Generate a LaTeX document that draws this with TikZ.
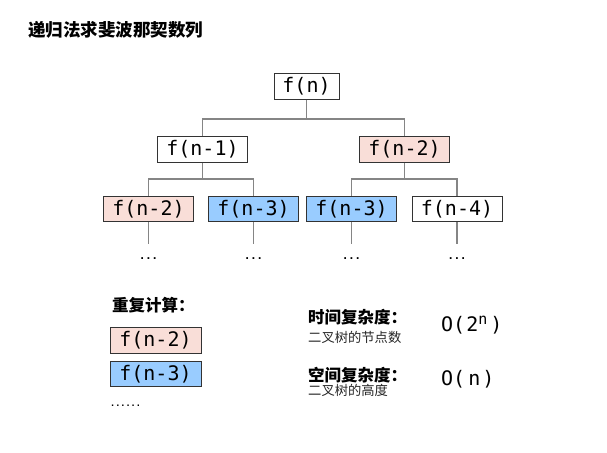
\documentclass[tikz,border=0pt]{standalone}
\usepackage{fontspec}
\setmonofont{DejaVu Sans Mono}
\newfontfamily\cjk{Noto Sans CJK SC}
\newfontfamily\boxfont{DejaVu Sans Mono}
\definecolor{pinkfill}{HTML}{F9DED8}
\definecolor{bluefill}{HTML}{99CCFF}
\definecolor{linegrey}{HTML}{858585}
\definecolor{boxline}{HTML}{333333}
\tikzset{
  fbox/.style={draw=boxline, line width=1pt, fill=white, minimum height=25.5pt, inner sep=0pt,
    font=\boxfont\fontsize{20}{20}\selectfont, text=black},
  lvlbox/.style={fbox, minimum width=90pt},
  pinkbox/.style={fill=pinkfill},
  bluebox/.style={fill=bluefill},
  conn/.style={draw=linegrey, line width=1.3pt},
  dots/.style={font=\ttfamily\bfseries\fontsize{10.5}{10.5}\selectfont, inner sep=0pt},
  heading/.style={font=\cjk\bfseries\fontsize{16.5}{16.5}\selectfont, anchor=west, inner sep=0pt},
  subnote/.style={font=\cjk\fontsize{13.3}{13.3}\selectfont, anchor=west, inner sep=0pt, text=black!85},
  bigo/.style={font=\boxfont\fontsize{20}{20}\selectfont, anchor=west, inner sep=0pt}
}
\begin{document}
\begin{tikzpicture}[x=1pt,y=-1pt]
\useasboundingbox (0,0) rectangle (607,452);
\fill[white] (0,0) rectangle (607,452);
% title
\node[font=\cjk\bfseries\fontsize{17.5}{17.5}\selectfont, anchor=west, inner sep=0pt] (title) at (28,30) {递归法求斐波那契数列};
% tree
\node[fbox, minimum width=65pt] (root) at (306.5,86.5) {f(n)};
\node[lvlbox] (a) at (202.5,149.5) {f(n-1)};
\node[lvlbox, pinkbox] (b) at (404.5,149.5) {f(n-2)};
\node[lvlbox, pinkbox] (c) at (148.5,209) {f(n-2)};
\node[lvlbox, bluebox] (d) at (253.5,209) {f(n-3)};
\node[lvlbox, bluebox] (e) at (351.5,209) {f(n-3)};
\node[lvlbox] (g) at (457,209) {f(n-4)};
\coordinate (j1) at (0,119);
\coordinate (j2) at (0,179);
\coordinate (jend) at (0,244);
\draw[conn] (root.south) -- (root.south |- j1);
\draw[conn] (a.north) |- (root.south |- j1) -| (b.north);
\draw[conn] (a.south) -- (a.south |- j2);
\draw[conn] (c.north) |- (a.south |- j2) -| (d.north);
\draw[conn] (b.south) -- (b.south |- j2);
\draw[conn] (e.north) |- (b.south |- j2) -| (g.north);
\foreach \n in {c,d,e,g}{
  \draw[conn] (\n.south) -- (\n.south |- jend);
  \path (\n.south |- 0,259) node[dots] (dots\n) {...};
}
% legend
\node[heading] (rep) at (112,305) {重复计算：};
\node[lvlbox, pinkbox, minimum width=91pt] (l1) at (155.5,340.5) {f(n-2)};
\node[lvlbox, bluebox, minimum width=91pt] (l2) at (155.5,374) {f(n-3)};
\node[dots, anchor=west, font=\ttfamily\bfseries\fontsize{8.5}{8.5}\selectfont] (ldots) at (110,406) {......};
% complexity
\node[heading] (tc) at (308,317) {时间复杂度：};
\node[subnote] (tcn) at (308,337) {二叉树的节点数};
\node[heading] (sc) at (308,375) {空间复杂度：};
\node[subnote] (scn) at (308,390) {二叉树的高度};
\node[bigo] (to) at (441,325) {O(\kern1pt2\raisebox{7pt}{\fontsize{15}{15}\selectfont n}\kern3pt)};
\node[bigo] (so) at (441,379) {O(\kern3pt n\kern2pt)};
\end{tikzpicture}
\end{document}
